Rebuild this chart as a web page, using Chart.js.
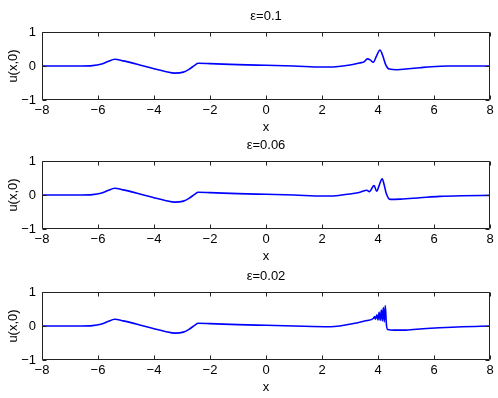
<!DOCTYPE html>
<html lang="en">
<head>
<meta charset="UTF-8">
<script src="https://cdn.jsdelivr.net/npm/chart.js"></script>
<title>u(x,0) for three values of epsilon</title>
<style>
  body { margin: 0; background: #fff; }
  #wrap { position: relative; width: 498px; height: 398px; }
  canvas { position: absolute; left: 0; }
</style>
</head>
<body>
<div id="wrap">
  <canvas id="c1" width="498" height="136" style="top:0px"></canvas>
  <canvas id="c2" width="498" height="136" style="top:129px"></canvas>
  <canvas id="c3" width="498" height="136" style="top:260px"></canvas>
</div>
<script>
// panel titles and tick labels
const titles = ['ε=0.1', 'ε=0.06', 'ε=0.02'];
const xTicks = [-8, -6, -4, -2, 0, 2, 4, 6, 8];
const yTicks = [-1, 0, 1];

// eps = 0.1
const x01 = [-8, -6.6, -6.2, -5.9, -5.65, -5.4, -5.1, -4.6, -4.0, -3.6, -3.25, -2.95, -2.75, -2.55, -2.42, -2.0, -1.0, 0, 1, 2, 2.5, 3.0, 3.4, 3.5, 3.62, 3.72, 3.83, 3.95, 4.07, 4.17, 4.27, 4.4, 4.7, 5.0, 5.5, 5.9, 6.5, 8];
const u01 = [0, 0, 0.01, 0.05, 0.13, 0.2, 0.15, 0.05, -0.08, -0.16, -0.21, -0.18, -0.1, 0.02, 0.08, 0.07, 0.04, 0.02, 0.0, -0.03, -0.02, 0.03, 0.1, 0.12, 0.21, 0.18, 0.11, 0.3, 0.47, 0.3, 0.05, -0.09, -0.11, -0.09, -0.05, -0.02, 0, 0];

// eps = 0.06
const x006 = [-8, -6.6, -6.2, -5.9, -5.65, -5.4, -5.1, -4.6, -4.0, -3.6, -3.25, -2.95, -2.75, -2.55, -2.42, -2.0, -1.0, 0, 1, 2, 2.5, 3.0, 3.36, 3.6, 3.69, 3.86, 3.95, 4.05, 4.15, 4.22, 4.29, 4.43, 4.8, 5.5, 6.2, 7, 8];
const u006 = [0, 0, 0.01, 0.05, 0.13, 0.2, 0.15, 0.05, -0.08, -0.16, -0.21, -0.18, -0.1, 0.02, 0.08, 0.07, 0.04, 0.02, 0.0, -0.03, -0.02, 0.03, 0.08, 0.14, 0.1, 0.28, 0.11, 0.3, 0.48, 0.3, 0.06, -0.13, -0.12, -0.08, -0.04, -0.02, -0.01];

// eps = 0.02
const x002 = [-8, -6.6, -6.2, -5.9, -5.65, -5.4, -5.1, -4.6, -4.0, -3.6, -3.25, -2.95, -2.75, -2.55, -2.42, -2.0, -1.0, 0, 1, 2.3, 3.24, 3.6, 3.83, 3.88, 3.91, 3.96, 4.0, 4.04, 4.08, 4.12, 4.155, 4.19, 4.225, 4.26, 4.3, 4.34, 4.6, 5.0, 5.6, 6.2, 7, 8];
const u002 = [0, 0, 0.01, 0.05, 0.13, 0.2, 0.15, 0.05, -0.08, -0.16, -0.21, -0.18, -0.1, 0.02, 0.08, 0.07, 0.04, 0.02, 0.0, -0.02, 0.09, 0.16, 0.22, 0.28, 0.2, 0.33, 0.18, 0.4, 0.17, 0.47, 0.15, 0.54, 0.12, 0.6, 0.05, -0.1, -0.12, -0.12, -0.08, -0.05, -0.02, 0];

const series = [[x01, u01], [x006, u006], [x002, u002]];

const font = { family: "'Liberation Sans', Arial, Helvetica, sans-serif", size: 13 };
const minus = v => String(v).replace('-', '\u2212');

// box around the axes and inward tick marks, like matlab
const boxPlugin = {
  id: 'box',
  afterDraw(chart) {
    const { ctx, chartArea: a, scales: { x, y } } = chart;
    const l = Math.round(a.left) + 0.5, r = Math.round(a.right) - 0.5;
    const t = Math.round(a.top) + 0.5, b = Math.round(a.bottom) - 0.5;
    ctx.save();
    ctx.strokeStyle = '#222';
    ctx.lineWidth = 1;
    ctx.beginPath();
    ctx.rect(l, t, r - l, b - t);
    x.ticks.forEach(tk => {
      const px = Math.round(x.getPixelForValue(tk.value)) + 0.5;
      ctx.moveTo(px, b); ctx.lineTo(px, b - 4);
      ctx.moveTo(px, t); ctx.lineTo(px, t + 4);
    });
    y.ticks.forEach(tk => {
      const py = Math.round(y.getPixelForValue(tk.value)) + 0.5;
      ctx.moveTo(l, py); ctx.lineTo(l + 4, py);
      ctx.moveTo(r, py); ctx.lineTo(r - 4, py);
    });
    ctx.stroke();
    ctx.restore();
  }
};

series.forEach((s, i) => {
  const pts = s[0].map((xv, k) => ({ x: xv, y: s[1][k] }));
  new Chart(document.getElementById('c' + (i + 1)), {
    type: 'line',
    data: {
      datasets: [{
        data: pts,
        borderColor: '#0000ff',
        borderWidth: 1.6,
        pointRadius: 0,
        cubicInterpolationMode: 'monotone',
        fill: false
      }]
    },
    options: {
      responsive: false,
      animation: false,
      layout: { padding: { left: 0, right: 8, top: 0, bottom: 0 } },
      plugins: {
        legend: { display: false },
        tooltip: { enabled: false },
        title: {
          display: true,
          fullSize: false,
          text: titles[i],
          color: '#000',
          font: { ...font, weight: 'normal' },
          padding: { top: 8.2, bottom: 8.2 }
        }
      },
      scales: {
        x: {
          type: 'linear',
          min: -8, max: 8,
          afterBuildTicks: sc => { sc.ticks = xTicks.map(v => ({ value: v })); },
          afterFit: sc => { sc.height = 36; },
          grid: { display: false, drawTicks: false },
          border: { display: false },
          ticks: { color: '#000', font, padding: 3, maxRotation: 0, callback: minus },
          title: { display: true, text: 'x', color: '#000', font, padding: { top: 0, bottom: 1.2 } }
        },
        y: {
          min: -1, max: 1,
          afterBuildTicks: sc => { sc.ticks = yTicks.map(v => ({ value: v })); },
          afterFit: sc => { sc.width = 42; },
          grid: { display: false, drawTicks: false },
          border: { display: false },
          ticks: { color: '#000', font, padding: 6, callback: minus },
          title: { display: true, text: 'u(x,0)', color: '#000', font, padding: { top: 5.5, bottom: 0 } }
        }
      }
    },
    plugins: [boxPlugin]
  });
});
</script>
</body>
</html>
